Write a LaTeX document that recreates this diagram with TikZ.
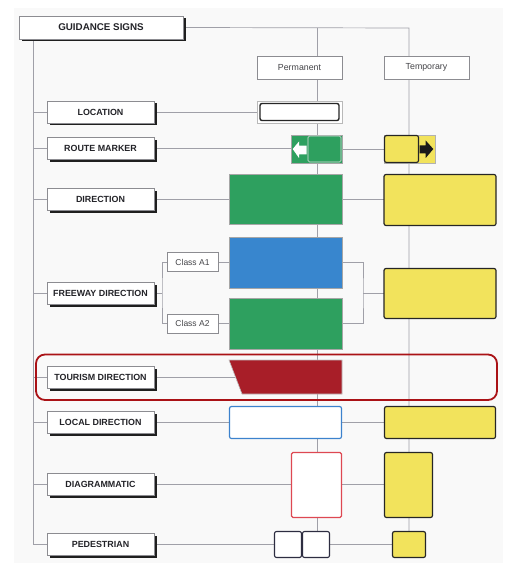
\documentclass[tikz,border=0pt]{standalone}
\usepackage{fontspec}
\setmainfont{Liberation Sans}
\usetikzlibrary{shadows,backgrounds}
\definecolor{pagebg}{RGB}{249,249,249}
\definecolor{linegray}{RGB}{160,160,168}
\definecolor{boxgray}{RGB}{140,140,145}
\definecolor{sgreen}{RGB}{46,160,95}
\definecolor{sblue}{RGB}{56,134,206}
\definecolor{syellow}{RGB}{242,227,92}
\definecolor{sred}{RGB}{168,30,40}
\definecolor{hired}{RGB}{170,18,22}
\definecolor{lblue}{RGB}{60,130,205}
\definecolor{lred}{RGB}{222,72,82}
\definecolor{navy}{RGB}{45,45,65}
\definecolor{txt}{RGB}{35,35,40}
\pgfdeclarelayer{bgzero}
\pgfsetlayers{bgzero,background,main}
\begin{document}
\begin{tikzpicture}[x=1pt,y=-1pt,
  cat/.style={draw=boxgray,line width=0.6pt,fill=white,inner sep=0pt,outer sep=0pt,
    minimum width=107pt,minimum height=22pt,text=txt,
    font=\bfseries\fontsize{8.9}{10.5}\selectfont,
    drop shadow={shadow xshift=2.5pt,shadow yshift=-2.5pt,fill=black!88,opacity=1}},
  lbl/.style={draw=boxgray,line width=0.5pt,fill=white,inner sep=0pt,outer sep=0pt,
    minimum height=20pt,text=txt!85,font=\fontsize{8.8}{10.5}\selectfont},
  conn/.style={draw=linegray,line width=0.7pt},
  sign/.style={inner sep=0pt,outer sep=0pt,line width=0.6pt},
  gsign/.style={sign,fill=sgreen,draw=gray!70},
  ysign/.style={sign,fill=syellow,draw=black!85,line width=1.2pt,rounded corners=2pt},
]
\useasboundingbox (0,0) rectangle (529,585);
\begin{pgfonlayer}{bgzero}
\fill[pagebg] (14,8) rectangle (503,563);
\end{pgfonlayer}

% title and category boxes
\node[cat,minimum width=164pt,minimum height=23pt,font=\bfseries\fontsize{9.8}{11.5}\selectfont] (guid) at (101,27.5) {GUIDANCE SIGNS};
\node[cat] (loc) at (100.5,112) {LOCATION};
\node[cat] (route) at (100.5,148.5) {ROUTE MARKER};
\node[cat] (dir) at (100.5,199.5) {DIRECTION};
\node[cat] (fwy) at (100.5,293) {FREEWAY DIRECTION};
\node[cat] (tour) at (100.5,377.5) {TOURISM DIRECTION};
\node[cat] (local) at (100.5,422.5) {LOCAL DIRECTION};
\node[cat] (diag) at (100.5,484.5) {DIAGRAMMATIC};
\node[cat] (ped) at (100.5,544) {PEDESTRIAN};

% column labels
\node[lbl,minimum width=85pt,minimum height=23pt] (perm) at (299.5,67.5) {Permanent};
\node[lbl,minimum width=85pt,minimum height=23pt] (temp) at (426.5,67.5) {Temporary};
\node[lbl,minimum width=51pt,minimum height=19pt,font=\fontsize{8.5}{10}\selectfont] (cA1) at (192.5,262) {Class A1};
\node[lbl,minimum width=51pt,minimum height=19pt,font=\fontsize{8.5}{10}\selectfont] (cA2) at (192.5,323.5) {Class A2};

% location sign
\node[sign,draw=gray!55,fill=white,minimum width=85pt,minimum height=22pt] (locS) at (299.5,112) {};
\node[sign,draw=black!85,line width=1.4pt,rounded corners=2pt,fill=white,minimum width=79pt,minimum height=17pt] (locSi) at (299.5,112) {};

% route marker signs
\node[gsign,minimum width=51pt,minimum height=28pt] (routeP) at (316.5,149) {};
\node[sign,fill=sgreen,draw=white!75!gray,rounded corners=1.5pt,minimum width=33pt,minimum height=26pt] (routePi) at (324.5,149) {};
\fill[white] (292.7,149) -- (299,141.5) -- (299,145.7) -- (306.5,145.7) -- (306.5,154.3) -- (299,154.3) -- (299,158) -- cycle;
\node[sign,fill=syellow,draw=gray!60,minimum width=51pt,minimum height=28pt] (routeT) at (409.5,149) {};
\node[ysign,minimum width=34pt,minimum height=27pt] (routeTi) at (401.5,149) {};
\fill[black!90] (433.3,149) -- (425.7,140.5) -- (425.7,145.5) -- (419.5,145.5) -- (419.5,153.5) -- (425.7,153.5) -- (425.7,158) -- cycle;

% direction signs
\node[gsign,minimum width=113pt,minimum height=50pt] (dirP) at (285.5,199) {};
\node[ysign,minimum width=112pt,minimum height=51pt] (dirT) at (440,200) {};

% freeway signs
\node[sign,fill=sblue,draw=gray!70,minimum width=113pt,minimum height=51pt] (fwyA1) at (285.5,262.5) {};
\node[gsign,minimum width=113pt,minimum height=51pt] (fwyA2) at (285.5,323.5) {};
\node[ysign,minimum width=112pt,minimum height=50pt] (fwyT) at (440,293.5) {};

% tourism sign
\draw[fill=sred,draw=gray!50,line width=0.6pt] (229,360) -- (342,360) -- (342,394) -- (242,394) -- cycle;
\coordinate (tourL) at (234.5,377.5);

% local direction signs
\node[sign,fill=white,draw=lblue,line width=1.2pt,rounded corners=2pt,minimum width=112pt,minimum height=32pt] (locP) at (285.5,422.5) {};
\node[ysign,minimum width=111pt,minimum height=32pt] (locT) at (440,422.5) {};

% diagrammatic signs
\node[sign,fill=white,draw=lred,line width=1.1pt,rounded corners=1.5pt,minimum width=50pt,minimum height=65pt] (diagP) at (316.5,485) {};
\node[ysign,minimum width=48pt,minimum height=65pt] (diagT) at (408.5,485) {};

% pedestrian signs
\node[sign,fill=white,draw=navy,line width=1.1pt,rounded corners=2pt,minimum width=27pt,minimum height=26pt] (pedP1) at (288,544.5) {};
\node[sign,fill=white,draw=navy,line width=1.1pt,rounded corners=2pt,minimum width=27pt,minimum height=26pt] (pedP2) at (316,544.5) {};
\node[ysign,minimum width=33pt,minimum height=26pt] (pedT) at (409,544.5) {};

% highlight
\draw[hired,line width=1.8pt,rounded corners=9pt] (36,354.5) rectangle (497,400);

% connectors
\begin{pgfonlayer}{background}
\coordinate (topP) at (317,28);
\coordinate (topT) at (409,28);
\coordinate (trunk) at (33,39);
\draw[conn] (guid.east) -- (topT) -- (topT |- pedT.north);
\draw[conn] (topP) -- (topP |- pedP2.north);
\draw[conn] (trunk) |- (ped.west);
\foreach \n in {loc,route,dir,fwy,tour,local,diag}
  \draw[conn] (\n.west -| trunk) -- (\n.west);
\draw[conn] (loc.east) -- (locS.west);
\draw[conn] (route.east) -- (route.east -| routeP.west);
\draw[conn] (routeP.east) -- (routeT.west);
\draw[conn] (dir.east) -- (dir.east -| dirP.west);
\draw[conn] (dirP.east) -- (dirP.east -| dirT.west);
\coordinate (fj) at (162,293);
\draw[conn] (fwy.east) -- (fj);
\draw[conn] (cA1.west) -| (fj) |- (cA2.west);
\draw[conn] (cA1.east) -- (cA1.east -| fwyA1.west);
\draw[conn] (cA2.east) -- (fwyA2.west);
\coordinate (bj) at (363,293.5);
\draw[conn] (fwyA1.east |- cA1.east) -| (bj) |- (fwyA2.east |- cA2.east);
\draw[conn] (bj) -- (fwyT.west);
\draw[conn] (tour.east) -- (tourL);
\draw[conn] (local.east) -- (locP.west);
\draw[conn] (locP.east) -- (locT.west);
\draw[conn] (diag.east) -- (diag.east -| diagP.west);
\draw[conn] (diagP.east |- diag.east) -- (diag.east -| diagT.west);
\draw[conn] (ped.east) -- (ped.east -| pedP1.west);
\draw[conn] (pedP2.east |- ped.east) -- (ped.east -| pedT.west);
\end{pgfonlayer}
\end{tikzpicture}
\end{document}
